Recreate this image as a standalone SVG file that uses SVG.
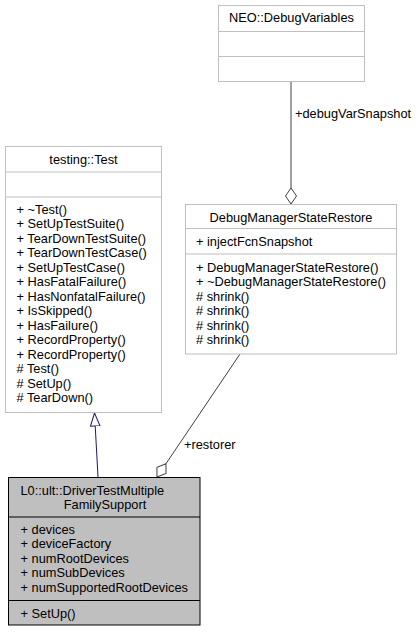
<svg xmlns="http://www.w3.org/2000/svg" width="418" height="632" viewBox="0 0 418 632">
<defs>
<style>
text{font-family:"Liberation Sans",Arial,Helvetica,sans-serif;font-size:12.8px;fill:#000}
.t{text-anchor:middle}
.box{fill:#fff;stroke:#bfbfbf;stroke-width:1}
.main{fill:#bfbfbf;stroke:#000;stroke-width:1}
.sep{stroke:#bfbfbf;stroke-width:1}
.msep{stroke:#000;stroke-width:1}
.agg{stroke:#404040;stroke-width:1;fill:none}
.inh{stroke:#191970;stroke-width:1;fill:none}
</style>
<marker id="odiamond" viewBox="0 0 17 12" refX="16.5" refY="6" markerWidth="17" markerHeight="12" markerUnits="userSpaceOnUse" orient="auto">
<path d="M0.5,6 L8.5,0.5 L16.5,6 L8.5,11.5 Z" fill="#fff" stroke="#404040" stroke-width="1"/>
</marker>
<marker id="otriangle" viewBox="0 0 14 11" refX="13.5" refY="5.5" markerWidth="14" markerHeight="11" markerUnits="userSpaceOnUse" orient="auto">
<path d="M0.5,0.75 L13.5,5.5 L0.5,10.25 Z" fill="#fff" stroke="#191970" stroke-width="1"/>
</marker>
</defs>
<rect x="0" y="0" width="418" height="632" fill="#fff"/>

<g id="connectors">
<path class="agg" d="M291,82 L291,204" marker-end="url(#odiamond)"/>
<text x="295" y="117.5">+debugVarSnapshot</text>
<path class="agg" d="M240,354 L157,477" marker-end="url(#odiamond)"/>
<text x="184" y="448.5">+restorer</text>
<path class="inh" d="M98,477 L94.5,413" marker-end="url(#otriangle)"/>
</g>

<g id="node-neo-debugvariables">
<rect class="box" x="218.5" y="5.5" width="146" height="76"/>
<line class="sep" x1="218.5" y1="31.5" x2="364.5" y2="31.5"/>
<line class="sep" x1="218.5" y1="56.5" x2="364.5" y2="56.5"/>
<text class="t" x="291.5" y="22">NEO::DebugVariables</text>
</g>

<g id="node-testing-test">
<rect class="box" x="5.5" y="146.5" width="156" height="266"/>
<line class="sep" x1="5.5" y1="172" x2="161.5" y2="172"/>
<line class="sep" x1="5.5" y1="197" x2="161.5" y2="197"/>
<text class="t" x="83.5" y="163.5">testing::Test</text>
<text x="16.5" y="213.5">+ ~Test()</text>
<text x="16.5" y="228">+ SetUpTestSuite()</text>
<text x="16.5" y="242.5">+ TearDownTestSuite()</text>
<text x="16.5" y="257">+ TearDownTestCase()</text>
<text x="16.5" y="271.5">+ SetUpTestCase()</text>
<text x="16.5" y="286">+ HasFatalFailure()</text>
<text x="16.5" y="300.5">+ HasNonfatalFailure()</text>
<text x="16.5" y="315">+ IsSkipped()</text>
<text x="16.5" y="329.5">+ HasFailure()</text>
<text x="16.5" y="344">+ RecordProperty()</text>
<text x="16.5" y="358.5">+ RecordProperty()</text>
<text x="16.5" y="373"># Test()</text>
<text x="16.5" y="387.5"># SetUp()</text>
<text x="16.5" y="402"># TearDown()</text>
</g>

<g id="node-debugmanagerstaterestore">
<rect class="box" x="185.5" y="204.5" width="211" height="149.5"/>
<line class="sep" x1="185.5" y1="228.5" x2="396.5" y2="228.5"/>
<line class="sep" x1="185.5" y1="254" x2="396.5" y2="254"/>
<text class="t" x="291" y="222">DebugManagerStateRestore</text>
<text x="196" y="245.5">+ injectFcnSnapshot</text>
<text x="196" y="271.5">+ DebugManagerStateRestore()</text>
<text x="196" y="286">+ ~DebugManagerStateRestore()</text>
<text x="196" y="300.5"># shrink()</text>
<text x="196" y="315"># shrink()</text>
<text x="196" y="329.5"># shrink()</text>
<text x="196" y="344"># shrink()</text>
</g>

<g id="node-drivertestmultiplefamilysupport">
<rect class="main" x="8.5" y="477.5" width="191.5" height="147.5"/>
<line class="msep" x1="8.5" y1="517" x2="200" y2="517"/>
<line class="msep" x1="8.5" y1="600.5" x2="200" y2="600.5"/>
<text x="20.5" y="494.5">L0::ult::DriverTestMultiple</text>
<text class="t" x="105" y="509">FamilySupport</text>
<text x="20.5" y="533.5">+ devices</text>
<text x="20.5" y="548">+ deviceFactory</text>
<text x="20.5" y="562.5">+ numRootDevices</text>
<text x="20.5" y="577">+ numSubDevices</text>
<text x="20.5" y="591.5">+ numSupportedRootDevices</text>
<text x="20.5" y="618">+ SetUp()</text>
</g>
</svg>
